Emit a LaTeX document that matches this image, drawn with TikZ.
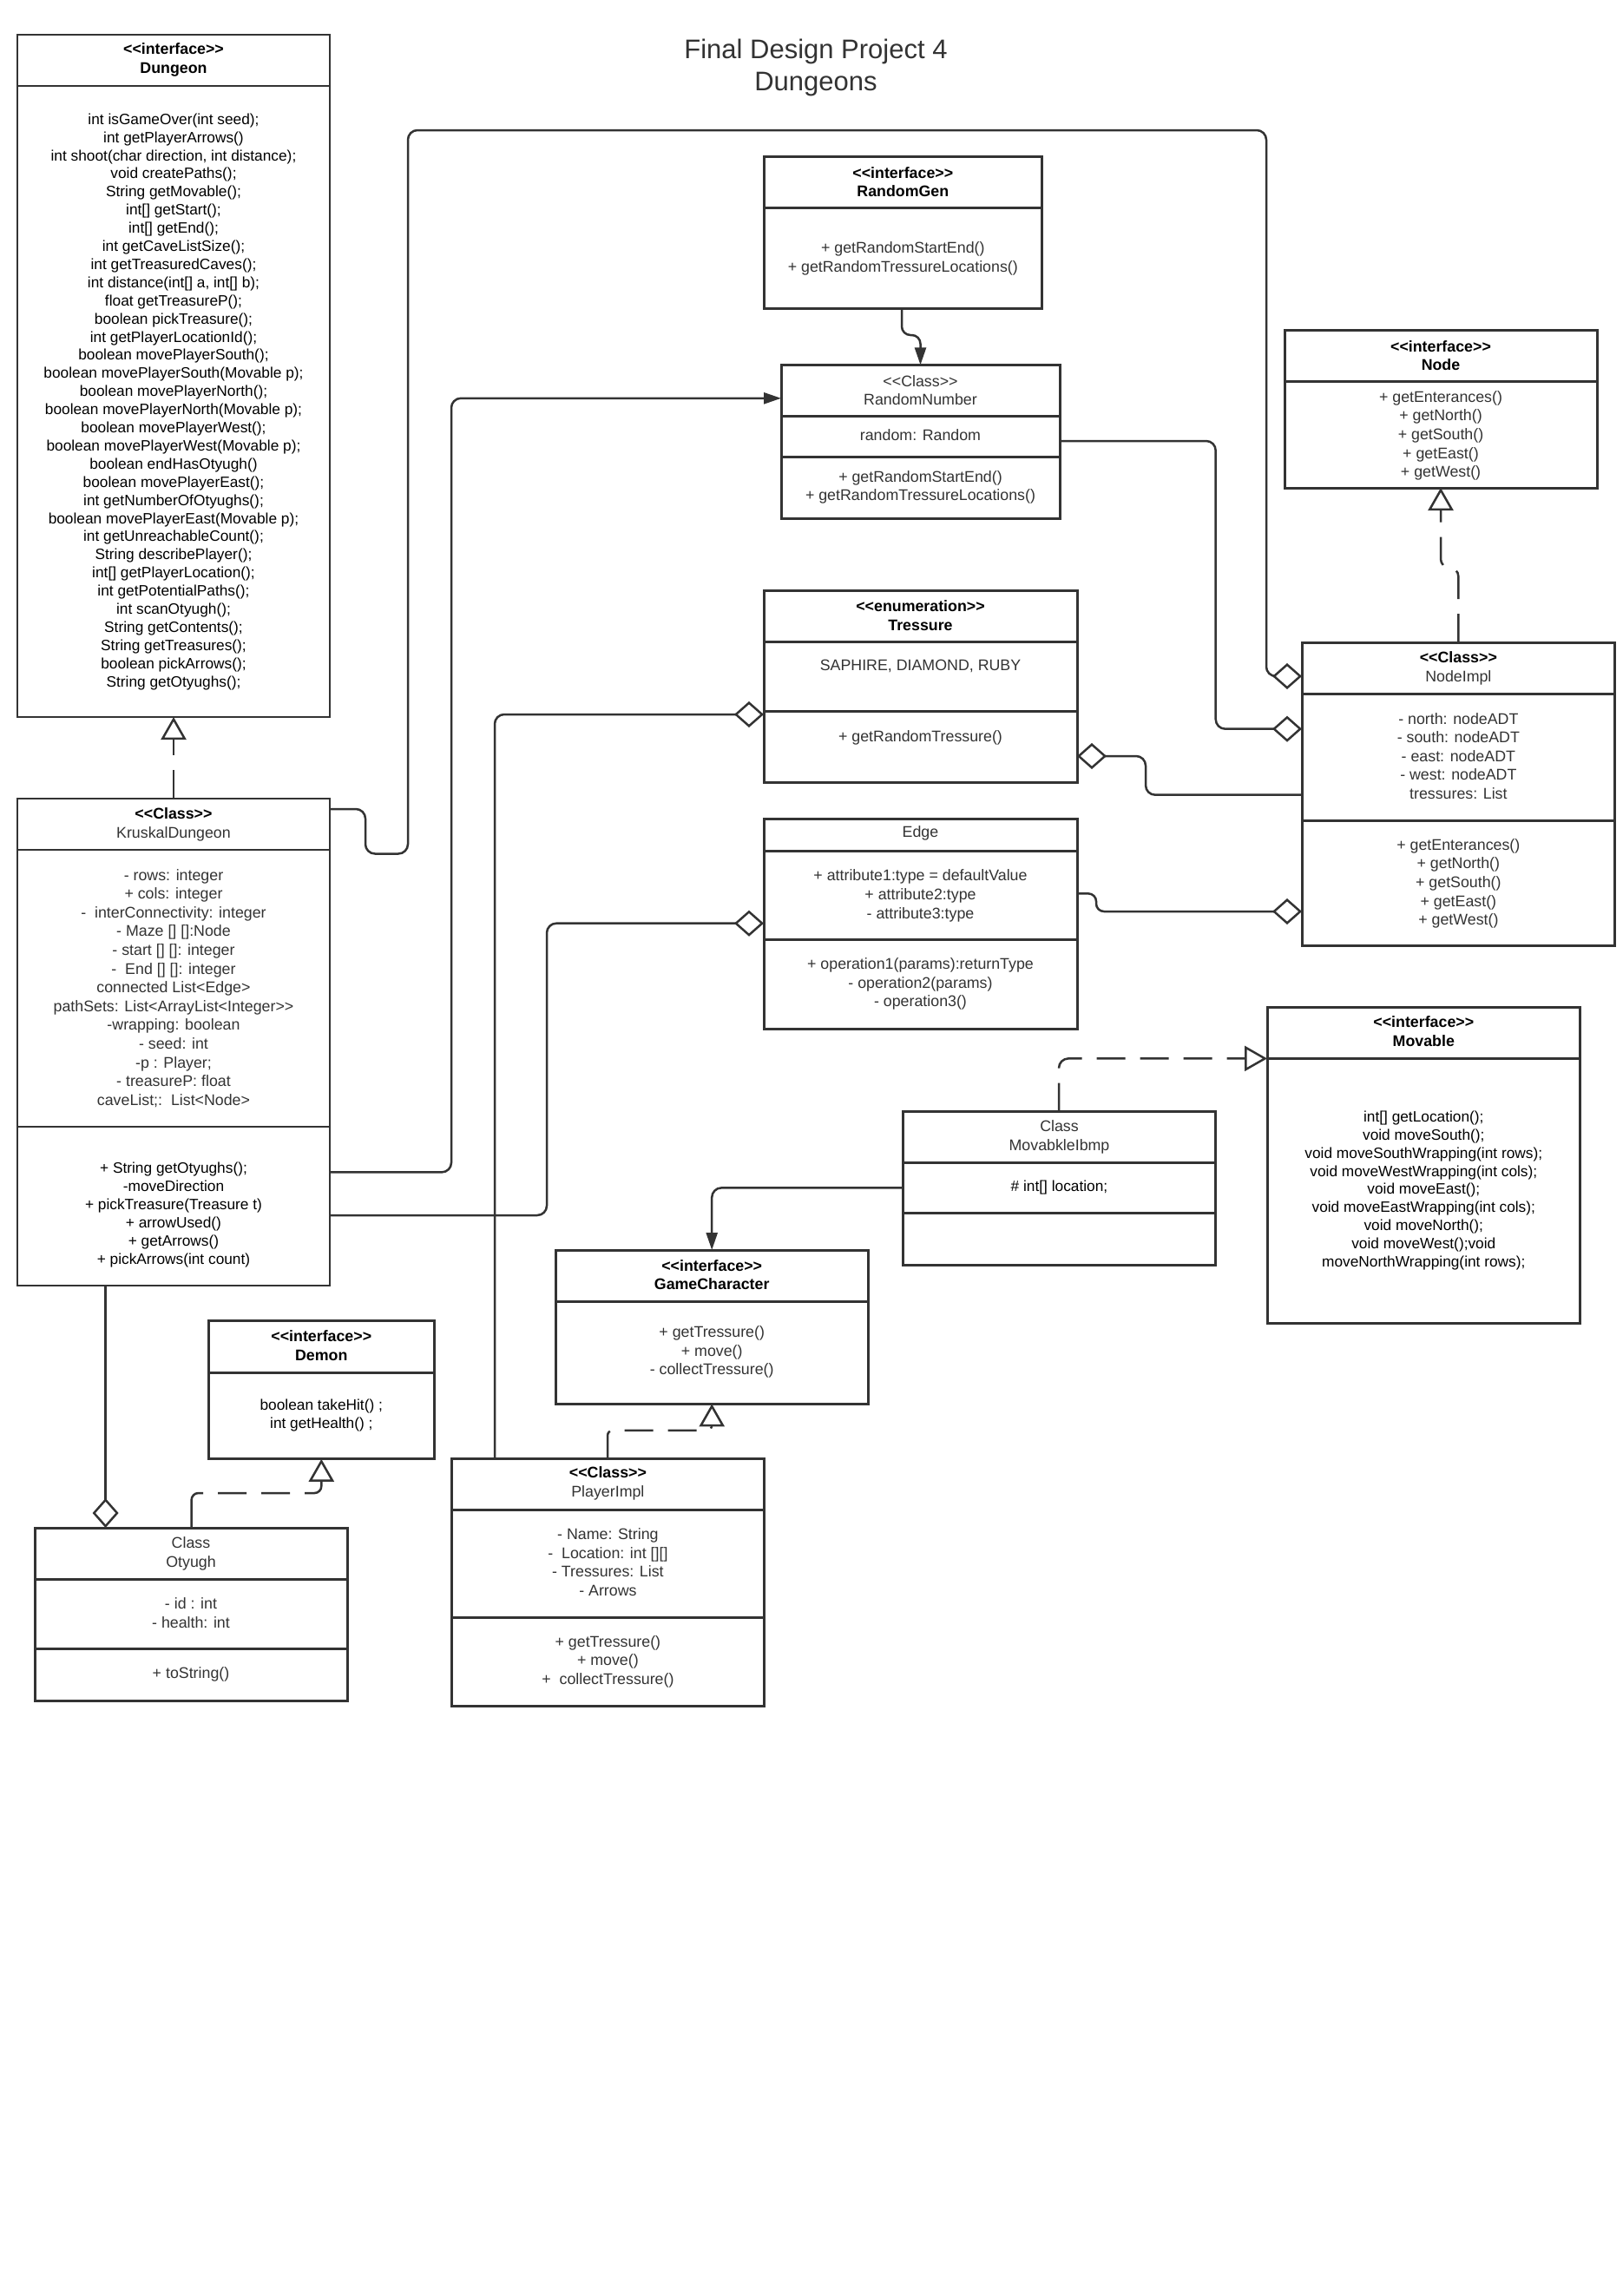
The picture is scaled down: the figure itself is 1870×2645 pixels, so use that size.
\documentclass[tikz,border=0pt]{standalone}
\usepackage{fontspec}
\setmainfont{Liberation Sans}
\usetikzlibrary{arrows.meta}
\definecolor{lc}{HTML}{333333}
\begin{document}
\begin{tikzpicture}[x=1pt,y=-1pt,
  box/.style={draw=lc, line width=3pt, fill=white, inner sep=0pt, outer sep=0pt, anchor=north west},
  thinbox/.style={box, line width=2.2pt},
  divl/.style={draw=lc, line width=3pt},
  thindiv/.style={draw=lc, line width=2.2pt},
  txtg/.style={inner sep=0pt, align=center, text=lc, font=\fontsize{17.8}{21.6}\selectfont},
  txtk/.style={inner sep=0pt, align=center, text=black, font=\fontsize{17.3}{20.9}\selectfont},
  hdb/.style={inner sep=0pt, align=center, text=black, font=\fontsize{17.8}{21.6}\selectfont\bfseries},
  conn/.style={draw=lc, line width=2.5pt, rounded corners=11pt},
  dconn/.style={conn, dash pattern=on 33pt off 17pt},
  aggd/.style={-{Diamond[open, length=34pt, width=30pt]}},
  realz/.style={-{Triangle[open, length=26pt, width=29pt]}},
  assoc/.style={-{Triangle[length=20pt, width=13pt]}}
]
\fill[white] (0,0) rectangle (1870,2645);
\useasboundingbox (0,0) rectangle (1870,2645);

% title
\node[inner sep=0pt, align=center, text=lc, font=\fontsize{31}{37}\selectfont] (title) at (940,78) {Final Design Project 4\\Dungeons};

% ---------- boxes ----------
% Dungeon
\node[thinbox, minimum width=360pt, minimum height=786.4pt] (dungeon) at (20,39.6) {};
\draw[thindiv] (20,98.6) -- (380,98.6);
\node[hdb] (dungeonH) at (200,68.8) {<{}<interface>{}>\\Dungeon};
\node[txtk] (dungeonB) at (200,462.7) {int isGameOver(int seed);\\
int getPlayerArrows()\\
int shoot(char direction, int distance);\\
void createPaths();\\
String getMovable();\\
int[] getStart();\\
int[] getEnd();\\
int getCaveListSize();\\
int getTreasuredCaves();\\
int distance(int[] a, int[] b);\\
float getTreasureP();\\
boolean pickTreasure();\\
int getPlayerLocationId();\\
boolean movePlayerSouth();\\
boolean movePlayerSouth(Movable p);\\
boolean movePlayerNorth();\\
boolean movePlayerNorth(Movable p);\\
boolean movePlayerWest();\\
boolean movePlayerWest(Movable p);\\
boolean endHasOtyugh()\\
boolean movePlayerEast();\\
int getNumberOfOtyughs();\\
boolean movePlayerEast(Movable p);\\
int getUnreachableCount();\\
String describePlayer();\\
int[] getPlayerLocation();\\
int getPotentialPaths();\\
int scanOtyugh();\\
String getContents();\\
String getTreasures();\\
boolean pickArrows();\\
String getOtyughs();};

% KruskalDungeon
\node[thinbox, minimum width=360pt, minimum height=561.4pt] (kruskal) at (20,919.6) {};
\draw[thindiv] (20,979) -- (380,979);
\draw[thindiv] (20,1297.8) -- (380,1297.8);
\node[txtg] (kruskalH) at (200,949.6) {\textbf{\color{black}<{}<Class>{}>}\\KruskalDungeon};
\node[txtg] (kruskalA) at (200,1138.3) {- rows: integer\\
+ cols: integer\\
-\ \ interConnectivity: integer\\
- Maze [] []:Node\\
- start [] []: integer\\
-\ \ End [] []: integer\\
connected List<Edge>\\
pathSets: List<ArrayList<Integer>{}>\\
-wrapping: boolean\\
- seed: int\\
-p : Player;\\
- treasureP: float\\
caveList;:\ \ List<Node>};
\node[txtk] (kruskalM) at (200,1399.3) {+ String getOtyughs();\\
-moveDirection\\
+ pickTreasure(Treasure t)\\
+ arrowUsed()\\
+ getArrows()\\
+ pickArrows(int count)};

% RandomGen
\node[box, minimum width=320.6pt, minimum height=175pt] (randomgen) at (880,180) {};
\draw[divl] (880,239) -- (1200.6,239);
\node[hdb] (randomgenH) at (1040.3,209.7) {<{}<interface>{}>\\RandomGen};
\node[txtg] (randomgenB) at (1040.3,297.8) {+ getRandomStartEnd()\\+ getRandomTressureLocations()};

% RandomNumber
\node[box, minimum width=321pt, minimum height=176.6pt] (randomnumber) at (900,420.4) {};
\draw[divl] (900,479) -- (1221,479);
\draw[divl] (900,526) -- (1221,526);
\node[txtg] (randomnumberH) at (1060.5,449.5) {<{}<Class>{}>\\RandomNumber};
\node[txtg] (randomnumberA) at (1060.5,501.5) {random: Random};
\node[txtg] (randomnumberM) at (1060.5,561.5) {+ getRandomStartEnd()\\+ getRandomTressureLocations()};

% Node
\node[box, minimum width=360pt, minimum height=182pt] (node) at (1480,380) {};
\draw[divl] (1480,439) -- (1840,439);
\node[hdb] (nodeH) at (1660,409.8) {<{}<interface>{}>\\Node};
\node[txtg] (nodeB) at (1660,501.8) {+ getEnterances()\\+ getNorth()\\+ getSouth()\\+ getEast()\\+ getWest()};

% NodeImpl
\node[box, minimum width=360.7pt, minimum height=349.6pt] (nodeimpl) at (1500,740) {};
\draw[divl] (1500,799) -- (1860.7,799);
\draw[divl] (1500,945) -- (1860.7,945);
\node[txtg] (nodeimplH) at (1680.35,769.9) {\textbf{\color{black}<{}<Class>{}>}\\NodeImpl};
\node[txtg] (nodeimplA) at (1680.35,871) {- north: nodeADT\\- south: nodeADT\\- east: nodeADT\\- west: nodeADT\\tressures: List};
\node[txtg] (nodeimplM) at (1680.35,1017.9) {+ getEnterances()\\+ getNorth()\\+ getSouth()\\+ getEast()\\+ getWest()};

% Tressure
\node[box, minimum width=361pt, minimum height=221pt] (tressure) at (880,680) {};
\draw[divl] (880,739.5) -- (1241,739.5);
\draw[divl] (880,819) -- (1241,819);
\node[hdb] (tressureH) at (1060.5,709) {<{}<enumeration>{}>\\Tressure};
\node[txtg] (tressureV) at (1060.5,767.3) {SAPHIRE, DIAMOND, RUBY};
\node[txtg] (tressureM) at (1060.5,849.8) {+ getRandomTressure()};

% Edge
\node[box, minimum width=361pt, minimum height=241.5pt] (edge) at (880,943.5) {};
\draw[divl] (880,980) -- (1241,980);
\draw[divl] (880,1082) -- (1241,1082);
\node[txtg] (edgeH) at (1060.5,960) {Edge};
\node[txtg] (edgeA) at (1060.5,1031.8) {+ attribute1:type = defaultValue\\+ attribute2:type\\- attribute3:type};
\node[txtg] (edgeM) at (1060.5,1133.6) {+ operation1(params):returnType\\- operation2(params)\\- operation3()};

% Movable
\node[box, minimum width=360.6pt, minimum height=364pt] (movable) at (1460,1160) {};
\draw[divl] (1460,1219.4) -- (1820.6,1219.4);
\node[hdb] (movableH) at (1640.3,1188.4) {<{}<interface>{}>\\Movable};
\node[txtk] (movableB) at (1640.3,1371.5) {int[] getLocation();\\
void moveSouth();\\
void moveSouthWrapping(int rows);\\
void moveWestWrapping(int cols);\\
void moveEast();\\
void moveEastWrapping(int cols);\\
void moveNorth();\\
void moveWest();void\\
moveNorthWrapping(int rows);};

% MovabkleIbmp
\node[box, minimum width=360pt, minimum height=176.4pt] (movimpl) at (1040.6,1280.6) {};
\draw[divl] (1040.6,1339) -- (1400.6,1339);
\draw[divl] (1040.6,1397.7) -- (1400.6,1397.7);
\node[txtg] (movimplH) at (1220.5,1309.8) {Class\\MovabkleIbmp};
\node[txtk] (movimplA) at (1220.5,1368.3) {\# int[] location;};

% GameCharacter
\node[box, minimum width=360.4pt, minimum height=177.4pt] (gamechar) at (640,1440) {};
\draw[divl] (640,1499.5) -- (1000.4,1499.5);
\node[hdb] (gamecharH) at (820.2,1468.6) {<{}<interface>{}>\\GameCharacter};
\node[txtg] (gamecharB) at (820.2,1557.6) {+ getTressure()\\+ move()\\- collectTressure()};

% Demon
\node[box, minimum width=260.6pt, minimum height=158.9pt] (demon) at (240,1521.9) {};
\draw[divl] (240,1581) -- (500.6,1581);
\node[hdb] (demonH) at (370.3,1550) {<{}<interface>{}>\\Demon};
\node[txtk] (demonB) at (370.3,1630.7) {boolean takeHit() ;\\int getHealth() ;};

% Otyugh
\node[box, minimum width=360pt, minimum height=199pt] (otyugh) at (40,1760) {};
\draw[divl] (40,1819) -- (400,1819);
\draw[divl] (40,1899) -- (400,1899);
\node[txtg] (otyughH) at (220,1790) {Class\\Otyugh};
\node[txtg] (otyughA) at (220,1858.4) {- id : int\\- health: int};
\node[txtg] (otyughM) at (220,1929) {+ toString()};

% PlayerImpl
\node[box, minimum width=360.8pt, minimum height=284.2pt] (player) at (520,1680.8) {};
\draw[divl] (520,1739) -- (880.8,1739);
\draw[divl] (520,1863) -- (880.8,1863);
\node[txtg] (playerH) at (700.4,1708.8) {\textbf{\color{black}<{}<Class>{}>}\\PlayerImpl};
\node[txtg] (playerA) at (700.4,1799.6) {- Name: String\\-\ \ Location: int [][]\\- Tressures: List\\- Arrows};
\node[txtg] (playerM) at (700.4,1914.3) {+ getTressure()\\+ move()\\+\ \ collectTressure()};

% ---------- connectors ----------
% Kruskal -> Dungeon (realization)
\draw[dconn, realz] (kruskal.north) -- (dungeon.south);
% NodeImpl -> Node (realization)
\draw[dconn, realz, rounded corners=10pt] ([xshift=0pt]nodeimpl.north) -- ++(0,-86) -| (node.south);
% RandomGen -> RandomNumber
\draw[conn, assoc, rounded corners=10pt] ([xshift=-1.3pt]randomgen.south) -- ++(0,31) -| (randomnumber.north);
% Kruskal -> NodeImpl (aggregation)
\draw[conn, aggd] ([yshift=-12.4pt]kruskal.north east) -- ++(41,0) -- ++(0,51.5) -- ++(49,0) |- (1459,150) |- ([yshift=-39pt]nodeimpl.north west);
% Kruskal -> RandomNumber
\draw[conn, assoc] ([yshift=130.6pt]kruskal.south east) -- ++(140,0) |- ([yshift=-38.4pt]randomnumber.north west);
% Kruskal -> Edge (aggregation)
\draw[conn, aggd] ([yshift=81pt]kruskal.south east) -- ++(250,0) |- ([yshift=-120.2pt]edge.north west);
% PlayerImpl -> Tressure (aggregation)
\draw[conn, aggd] ([xshift=50pt]player.north west) |- ([yshift=-143pt]tressure.north west);
% RandomNumber -> NodeImpl (aggregation)
\draw[conn, aggd] ([yshift=-87.6pt]randomnumber.north east) -- ++(179.7,0) |- ([yshift=-99.7pt]nodeimpl.north west);
% NodeImpl -> Tressure (aggregation)
\draw[conn, aggd] ([yshift=-175.7pt]nodeimpl.north west) -- ++(-180,0) |- ([yshift=-191pt]tressure.north east);
% Edge -> NodeImpl (aggregation)
\draw[conn, aggd, rounded corners=9pt] ([yshift=-85.9pt]edge.north east) -- ++(22,0) |- ([yshift=-310pt]nodeimpl.north west);
% MovabkleIbmp -> Movable (realization)
\draw[dconn, realz] ([xshift=179.4pt]movimpl.north west) |- ([yshift=-59.4pt]movable.north west);
% MovabkleIbmp -> GameCharacter
\draw[conn, assoc] ([yshift=-87.8pt]movimpl.north west) -| (gamechar.north);
% PlayerImpl -> GameCharacter (realization)
\draw[dconn, realz, rounded corners=6pt] ([xshift=180pt]player.north west) -- ++(0,-33) -| (gamechar.south);
% Otyugh -> Demon (realization)
\draw[dconn, realz, rounded corners=8pt, dash pattern=on 50pt off 17pt on 33pt off 17pt on 33pt off 17pt] ([xshift=180.6pt]otyugh.north west) -- ++(0,-40) -| (demon.south);
% Kruskal -> Otyugh (aggregation)
\draw[conn, aggd] ([xshift=101.6pt]kruskal.south west) -- ([xshift=81.6pt]otyugh.north west);
\end{tikzpicture}
\end{document}
